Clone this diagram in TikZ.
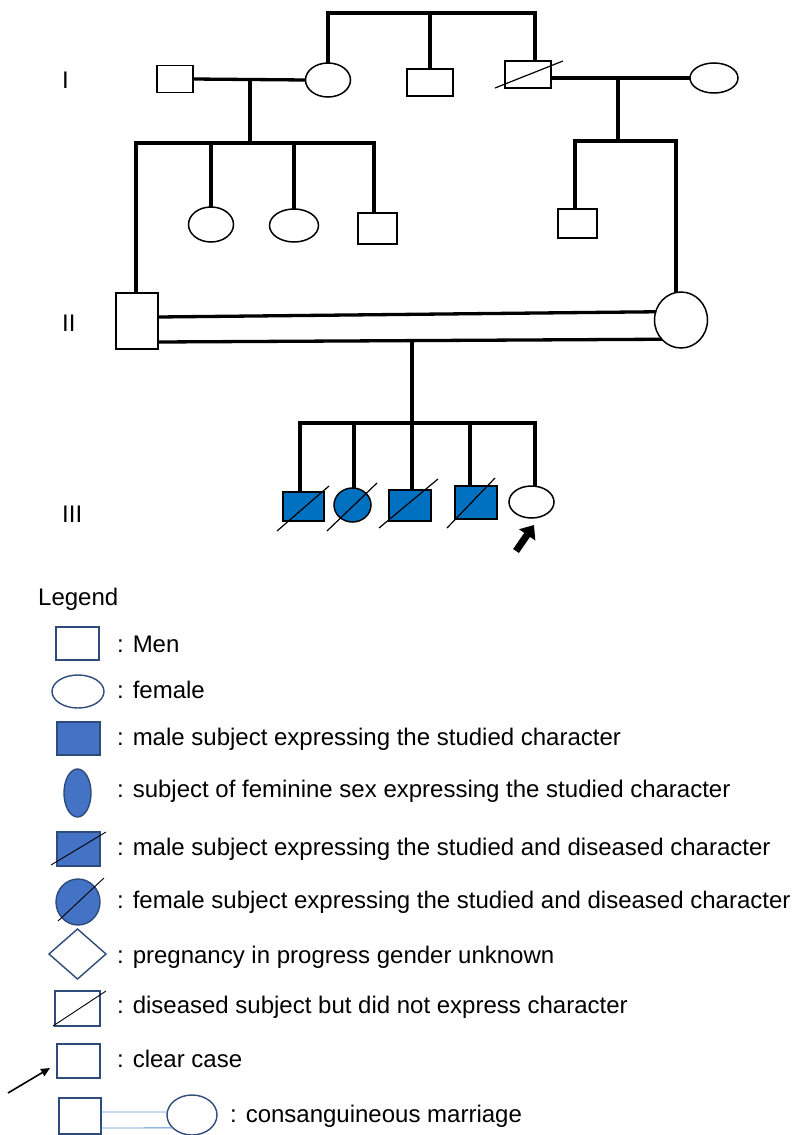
\documentclass[tikz,border=0pt]{standalone}
\usepackage{fontspec}
\setmainfont{Liberation Sans}
\usetikzlibrary{shapes.geometric,calc,arrows.meta}
\definecolor{pedblue}{HTML}{0070C0}
\definecolor{legblue}{HTML}{4472C4}
\definecolor{legnavy}{HTML}{2F4B7C}
\definecolor{cmblue}{HTML}{5B8FD9}
\begin{document}
\begin{tikzpicture}[x=1pt,y=-1pt,
  ped/.style={line width=3.3pt,black},
  indiv/.style={draw=black,line width=1.5pt,fill=white,inner sep=0pt,outer sep=0pt},
  male/.style={indiv,rectangle},
  female/.style={indiv,ellipse},
  aff/.style={fill=pedblue},
  slashline/.style={line width=1.2pt,black},
  leg/.style={draw=legnavy,line width=1.4pt,fill=white,inner sep=0pt,outer sep=0pt},
  legaff/.style={fill=legblue},
  cmline/.style={draw=cmblue,line width=0.9pt},
  txt/.style={anchor=base west,inner sep=0pt,font=\fontsize{24}{28}\selectfont}
]
\useasboundingbox (0,0) rectangle (795,1135);

% generation labels
\node[txt] (gI) at (62,88) {I};
\node[txt] (gII) at (62,331) {II};
\node[txt] (gIII) at (62,522) {III};

% ---------- generation I ----------
\node[male,minimum width=36,minimum height=27] (I1) at (175,79) {};
\node[female,minimum width=45,minimum height=34] (I2) at (328,80) {};
\node[male,minimum width=46,minimum height=27] (I3) at (430,82.5) {};
\node[male,minimum width=46,minimum height=27] (I4) at (528,74.5) {};
\node[female,minimum width=48,minimum height=30] (I5) at (714,78) {};
\draw[slashline] ($(I4.center)+(-33,13.5)$) -- ($(I4.center)+(35,-13.5)$);

\coordinate (tb) at (535,13);
\draw[ped] (I2.north) |- (tb) -- (tb |- I4.north);
\draw[ped] (I3.north) -- (I3.north |- tb);
\draw[ped] (I1.east) -- (I2.west);
\draw[ped] (I4.east |- I5.west) -- (I5.west);

% ---------- generation II ----------
\node[male,minimum width=42,minimum height=56] (II1) at (137,321) {};
\node[female,minimum width=45,minimum height=35] (IIa) at (211,224.5) {};
\node[female,minimum width=49,minimum height=33] (IIb) at (294,225.5) {};
\node[male,minimum width=39,minimum height=31] (IIc) at (377.5,228.5) {};
\node[male,minimum width=39,minimum height=29] (IId) at (577.5,223.5) {};
\node[female,minimum width=53,minimum height=56] (II2) at (681,320) {};

\coordinate (m1) at (250,79);
\coordinate (s1) at (250,143);
\coordinate (s1a) at (136,143);
\coordinate (s1b) at (374,143);
\draw[ped] (m1) -- (s1);
\draw[ped] (s1a |- II1.north) -- (s1a) -- (s1b) -- (s1b |- IIc.north);
\draw[ped] (IIa.north) -- (IIa.north |- s1a);
\draw[ped] (IIb.north) -- (IIb.north |- s1a);

\coordinate (m2) at (618,78);
\coordinate (s2) at (618,141);
\coordinate (s2a) at (575,141);
\coordinate (s2b) at (676,141);
\draw[ped] (m2) -- (s2);
\draw[ped] (s2a |- IId.north) -- (s2a) -- (s2b) -- (s2b |- II2.north);

% consanguineous marriage
\draw[ped] ($(II1.east)+(0,-4)$) -- (II2.162);
\draw[ped] ($(II1.east)+(0,21)$) -- (II2.225);

% ---------- generation III ----------
\node[male,aff,minimum width=41,minimum height=29] (III1) at (303.5,506.5) {};
\node[female,aff,minimum width=37,minimum height=34] (III2) at (352.5,505) {};
\node[male,aff,minimum width=42,minimum height=31] (III3) at (410,505.5) {};
\node[male,aff,minimum width=42,minimum height=33] (III4) at (476,502.5) {};
\node[female,minimum width=45,minimum height=32] (III5) at (531.5,502) {};
\draw[slashline] ($(III1.center)+(-26.5,24.5)$) -- ($(III1.center)+(25.5,-20.5)$);
\draw[slashline] ($(III2.center)+(-25.5,26)$) -- ($(III2.center)+(24.5,-22)$);
\draw[slashline] ($(III3.center)+(-31,22.5)$) -- ($(III3.center)+(28,-26.5)$);
\draw[slashline] ($(III4.center)+(-29,25.5)$) -- ($(III4.center)+(19,-24.5)$);

\coordinate (d3) at (412,341);
\coordinate (s3a) at (300,423);
\coordinate (s3b) at (535,423);
\coordinate (c2) at (354,423);
\coordinate (c4) at (470,423);
\draw[ped] (d3) -- (d3 |- III3.north);
\draw[ped] (s3a |- III1.north) -- (s3a) -- (s3b) -- (s3b |- III5.north);
\draw[ped] (c2) -- (c2 |- III2.north);
\draw[ped] (c4) -- (c4 |- III4.north);

% proband arrow
\coordinate (pa) at (516,551);
\coordinate (pb) at (534,525);
\draw[line width=7pt,-{Triangle[width=19pt,length=12pt]}] (pa) -- (pb);

% ---------- legend ----------
\node[txt] (leg) at (38,605) {Legend};

\node[leg,rectangle,minimum width=43,minimum height=33] (L1) at (77.5,643.5) {};
\node[txt] (T1) at (117,652) {: Men};

\node[leg,ellipse,minimum width=52,minimum height=33] (L2) at (78,691.5) {};
\node[txt] (T2) at (117,698) {: female};

\node[leg,legaff,rectangle,minimum width=43,minimum height=33] (L3) at (78.5,738.5) {};
\node[txt] (T3) at (117,745) {: male subject expressing the studied character};

\node[leg,legaff,ellipse,minimum width=27,minimum height=48] (L4) at (77.5,793) {};
\node[txt] (T4) at (117,797) {: subject of feminine sex expressing the studied character};

\node[leg,legaff,rectangle,minimum width=43,minimum height=34] (L5) at (78.5,849) {};
\draw[slashline,line width=0.9pt] ($(L5.center)+(-27.5,16)$) -- ($(L5.center)+(27.5,-17)$);
\node[txt] (T5) at (117,855) {: male subject expressing the studied and diseased character};

\node[leg,legaff,ellipse,minimum width=44,minimum height=46] (L6) at (78,902) {};
\draw[slashline,line width=0.9pt] ($(L6.center)+(-20,19)$) -- ($(L6.center)+(26,-24)$);
\node[txt] (T6) at (117,908) {: female subject expressing the studied and diseased character};

\node[leg,diamond,minimum width=57,minimum height=50] (L7) at (77.5,954) {};
\node[txt] (T7) at (117,963) {: pregnancy in progress gender unknown};

\node[leg,rectangle,minimum width=45,minimum height=35] (L8) at (77.5,1008.5) {};
\draw[slashline,line width=0.9pt] ($(L8.center)+(-24.5,17.5)$) -- ($(L8.center)+(28.5,-17.5)$);
\node[txt] (T8) at (117,1013) {: diseased subject but did not express character};

\node[leg,rectangle,minimum width=43,minimum height=34] (L9) at (78.5,1061) {};
\coordinate (la) at (8,1093);
\coordinate (lb) at (50,1068);
\draw[line width=1.6pt,-{Triangle[width=8pt,length=9pt]}] (la) -- (lb);
\node[txt] (T9) at (117,1067) {: clear case};

\node[leg,rectangle,minimum width=42,minimum height=36] (L10a) at (80,1116) {};
\node[leg,ellipse,minimum width=50,minimum height=40] (L10b) at (192,1115) {};
\draw[cmline] ($(L10a.east)+(0,-4)$) -- (L10b.173);
\draw[cmline] ($(L10a.east)+(0,12)$) -- (L10b.214);
\node[txt] (T10) at (230,1122) {: consanguineous marriage};
\end{tikzpicture}
\end{document}
